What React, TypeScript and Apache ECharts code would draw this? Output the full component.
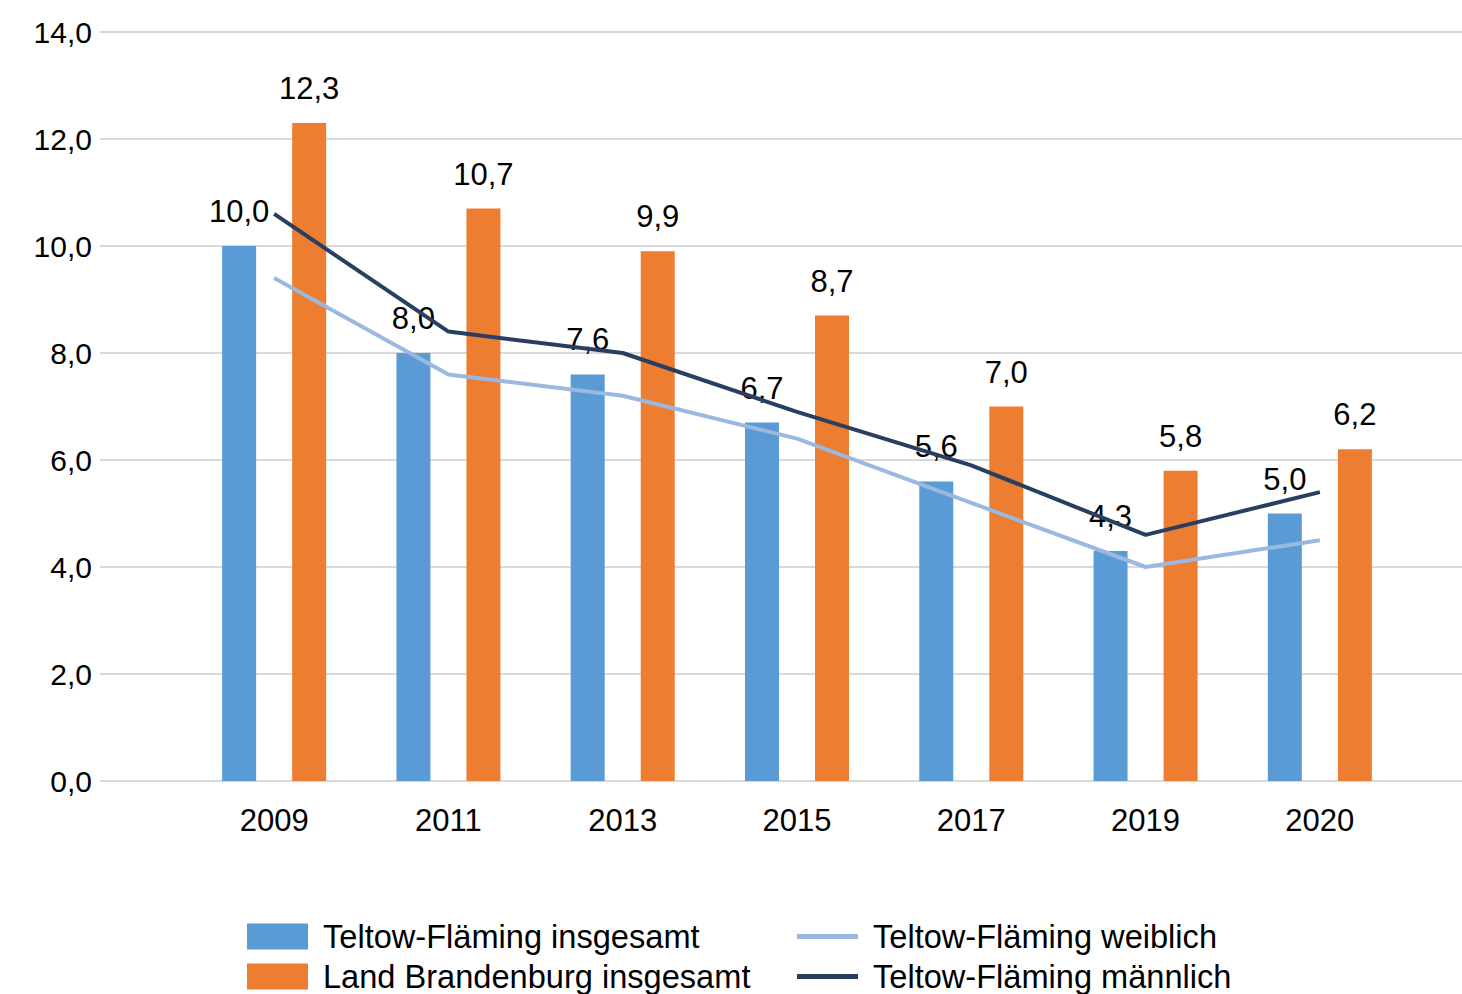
import React, { useEffect, useRef } from "react";
import * as echarts from "echarts";

const categories = ["2009", "2011", "2013", "2015", "2017", "2019", "2020"];
const tfTotal = [10.0, 8.0, 7.6, 6.7, 5.6, 4.3, 5.0];
const bbTotal = [12.3, 10.7, 9.9, 8.7, 7.0, 5.8, 6.2];
const tfFemale = [9.4, 7.6, 7.2, 6.4, 5.2, 4.0, 4.5];
const tfMale = [10.6, 8.4, 8.0, 6.9, 5.9, 4.6, 5.4];

const nameTfTotal = "Teltow-Fläming insgesamt";
const nameBbTotal = "Land Brandenburg insgesamt";
const nameTfFemale = "Teltow-Fläming weiblich";
const nameTfMale = "Teltow-Fläming männlich";

const FONT = "'Liberation Sans', Arial, sans-serif";
const fmt = (v: number) => v.toFixed(1).replace(".", ",");

const legendItem = (name: string, left: number, centerY: number, isLine: boolean) => {
  const h = isLine ? 5 : 26;
  return {
    orient: "horizontal",
    left,
    top: centerY - 18,
    height: 36,
    padding: 0,
    itemWidth: 61,
    itemHeight: h,
    icon: "rect",
    textStyle: {
      fontSize: 32.6,
      fontFamily: FONT,
      color: "#000",
      padding: [0, 0, 0, 10],
    },
    data: [name],
  };
};

export default function App() {
  const ref = useRef<HTMLDivElement>(null);
  useEffect(() => {
    if (!ref.current) return;
    const chart = echarts.init(ref.current, null, { renderer: "svg" });
    const barLabel = {
      show: true,
      position: "top" as const,
      distance: 19,
      fontSize: 31,
      fontFamily: FONT,
      color: "#000",
      formatter: (p: any) => fmt(p.value),
    };
    chart.setOption({
      animation: false,
      backgroundColor: "#fff",
      textStyle: { fontFamily: FONT },
      grid: [
        { left: 100, right: 0, top: 32, height: 749 },
        { left: 187, width: 1220, top: 32, height: 749 },
      ],
      xAxis: [
        {
          gridIndex: 0,
          type: "category",
          data: categories,
          show: false,
        },
        {
          gridIndex: 1,
          type: "category",
          data: categories,
          axisLine: { show: false },
          axisTick: { show: false },
          axisLabel: {
            fontSize: 31,
            fontFamily: FONT,
            color: "#000",
            margin: 24,
          },
        },
      ],
      yAxis: [
        {
          gridIndex: 0,
          type: "value",
          min: 0,
          max: 14,
          interval: 2,
          axisLine: { show: false },
          axisTick: { show: false },
          splitLine: { lineStyle: { color: "#d9d9d9", width: 2 } },
          axisLabel: {
            fontSize: 30,
            fontFamily: FONT,
            color: "#000",
            margin: 8,
            formatter: (v: number) => fmt(v),
          },
        },
        {
          gridIndex: 1,
          type: "value",
          min: 0,
          max: 14,
          interval: 2,
          show: false,
          splitLine: { show: false },
        },
      ],
      legend: [
        legendItem(nameTfTotal, 247, 938, false),
        legendItem(nameBbTotal, 247, 978, false),
        legendItem(nameTfFemale, 797, 938, true),
        legendItem(nameTfMale, 797, 978, true),
      ],
      series: [
        {
          name: nameTfTotal,
          type: "bar",
          xAxisIndex: 1,
          yAxisIndex: 1,
          data: tfTotal,
          barWidth: 34,
          barGap: "106%",
          itemStyle: { color: "#5b9bd5" },
          label: barLabel,
          z: 2,
        },
        {
          name: nameBbTotal,
          type: "bar",
          xAxisIndex: 1,
          yAxisIndex: 1,
          data: bbTotal,
          barWidth: 34,
          barGap: "106%",
          itemStyle: { color: "#ed7d31" },
          label: barLabel,
          z: 2,
        },
        {
          name: nameTfFemale,
          type: "line",
          xAxisIndex: 1,
          yAxisIndex: 1,
          data: tfFemale,
          symbol: "none",
          lineStyle: { color: "#9ab8e0", width: 4 },
          itemStyle: { color: "#9ab8e0" },
          z: 5,
        },
        {
          name: nameTfMale,
          type: "line",
          xAxisIndex: 1,
          yAxisIndex: 1,
          data: tfMale,
          symbol: "none",
          lineStyle: { color: "#283f61", width: 4 },
          itemStyle: { color: "#283f61" },
          z: 6,
        },
      ],
    });
    return () => chart.dispose();
  }, []);
  return (
    <div
      ref={ref}
      style={{ position: "fixed", left: 0, top: 0, width: 1462, height: 994 }}
    />
  );
}
